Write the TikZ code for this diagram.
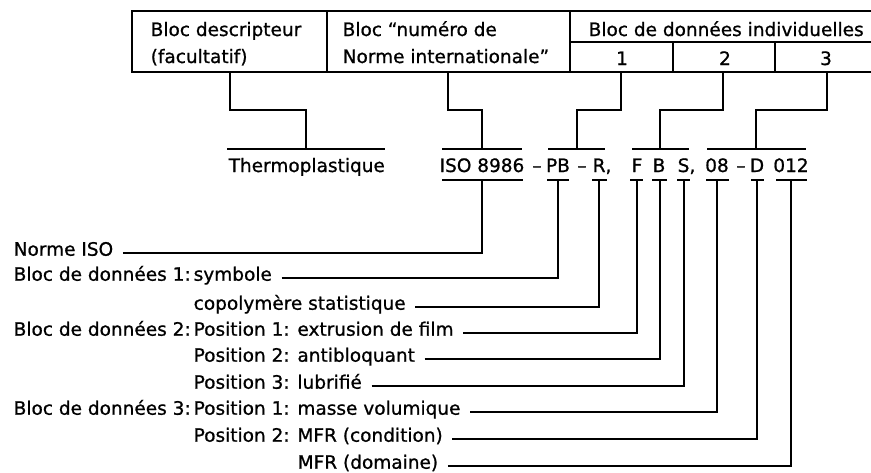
\documentclass[tikz,border=0pt]{standalone}
\usepackage{fontspec}
\setmainfont{DejaVu Sans}[FakeBold=0.9]
\begin{document}
\begin{tikzpicture}[x=1pt,y=-1pt,line width=1.4pt,
  txt/.style={font=\fontsize{18.5}{22}\selectfont,inner sep=0pt},
  lbl/.style={txt,anchor=mid west},
  tok/.style={txt,anchor=base},
  hdr/.style={txt,anchor=base west},
  bar/.style={line width=1.6pt},
  conn/.style={line width=1.4pt}]
\useasboundingbox (0,0) rectangle (871,472);
% header boxes
\draw (873,11) -- (132,11) -- (132,72) -- (873,72);
\draw (327,11) -- (327,72);
\draw (570,11) -- (570,72);
\draw (570,42) -- (873,42);
\draw (673,42) -- (673,72);
\draw (775,42) -- (775,72);
\node[hdr] (hdesc1) at (150,36) {Bloc descripteur};
\node[hdr] (hdesc2) at (150,63) {(facultatif)};
\node[hdr] (hnorm1) at (342,36) {Bloc “numéro de};
\node[hdr] (hnorm2) at (342,63) {Norme internationale”};
\node[hdr] (hind) at (588,36) {Bloc de données individuelles};
\node[tok] (h1) at (622,65) {1};
\node[tok] (h2) at (725,65) {2};
\node[tok] (h3) at (826,65) {3};
% box bottom coordinates
\coordinate (cDesc) at (230,72);
\coordinate (cNorm) at (448,72);
\coordinate (c1) at (621,72);
\coordinate (c2) at (723,72);
\coordinate (c3) at (827,72);
% top bars
\coordinate (tTherm) at (306,149);
\coordinate (tISO) at (482,149);
\coordinate (tPBR) at (577,149);
\coordinate (tFBS) at (660,149);
\coordinate (tDat3) at (756,149);
\draw[bar] (227,149) -- (385,149);
\draw[bar] (442,149) -- (522,149);
\draw[bar] (548,149) -- (605,149);
\draw[bar] (632,149) -- (689,149);
\draw[bar] (707,149) -- (806,149);
\draw[conn] (cDesc) -- (cDesc |- 0,110) -| (tTherm);
\draw[conn] (cNorm) -- (cNorm |- 0,110) -| (tISO);
\draw[conn] (c1) -- (c1 |- 0,110) -| (tPBR);
\draw[conn] (c2) -- (c2 |- 0,110) -| (tFBS);
\draw[conn] (c3) -- (c3 |- 0,110) -| (tDat3);
% code line
\node[hdr] (therm) at (228,172) {Thermoplastique};
\node[tok] (kISO) at (482,172) {ISO 8986};
\node[tok] (kd1) at (537,172) {–};
\node[tok] (kPB) at (558,172) {PB};
\node[tok] (kd2) at (582,172) {–};
\node[hdr] (kR) at (592,172) {R,};
\node[tok] (kF) at (637,172) {F};
\node[tok] (kB) at (659,172) {B};
\node[hdr] (kS) at (677,172) {S,};
\node[tok] (k08) at (717,172) {08};
\node[tok] (kd3) at (741,172) {–};
\node[tok] (kD) at (757,172) {D};
\node[tok] (k012) at (791,172) {012};
% bottom bars
\coordinate (bISO) at (482,180);
\coordinate (bPB) at (558,180);
\coordinate (bR) at (599,180);
\coordinate (bF) at (637,180);
\coordinate (bB) at (660,180);
\coordinate (bS) at (684,180);
\coordinate (b08) at (717,180);
\coordinate (bD) at (757,180);
\coordinate (b012) at (791,180);
\draw[bar] (442,180) -- (523,180);
\draw[bar] (547,180) -- (569,180);
\draw[bar] (592,180) -- (607,180);
\draw[bar] (630,180) -- (643,180);
\draw[bar] (652,180) -- (667,180);
\draw[bar] (677,180) -- (690,180);
\draw[bar] (706,180) -- (729,180);
\draw[bar] (751,180) -- (764,180);
\draw[bar] (776,180) -- (807,180);
% labels
\node[lbl] (lISO) at (13,253) {Norme ISO};
\node[lbl] (lB1) at (13,278) {Bloc de données 1:};
\node[lbl] (lPB) at (193,278) {symbole};
\node[lbl] (lR) at (193,307) {copolymère statistique};
\node[lbl] (lB2) at (13,333) {Bloc de données 2:};
\node[lbl] (lF) at (193,333) {Position 1: extrusion de film};
\node[lbl] (lB) at (193,359) {Position 2: antibloquant};
\node[lbl] (lS) at (193,386) {Position 3: lubrifié};
\node[lbl] (lB3) at (13,412) {Bloc de données 3:};
\node[lbl] (l08) at (193,412) {Position 1: masse volumique};
\node[lbl] (lD) at (193,439) {Position 2: MFR (condition)};
\node[lbl] (l012) at (297,466) {MFR (domaine)};
% connectors to labels
\draw[conn] ([xshift=9pt]lISO.mid east) -| (bISO);
\draw[conn] ([xshift=9pt]lPB.mid east) -| (bPB);
\draw[conn] ([xshift=9pt]lR.mid east) -| (bR);
\draw[conn] ([xshift=9pt]lF.mid east) -| (bF);
\draw[conn] ([xshift=9pt]lB.mid east) -| (bB);
\draw[conn] ([xshift=9pt]lS.mid east) -| (bS);
\draw[conn] ([xshift=9pt]l08.mid east) -| (b08);
\draw[conn] ([xshift=9pt]lD.mid east) -| (bD);
\draw[conn] ([xshift=9pt]l012.mid east) -| (b012);
\end{tikzpicture}
\end{document}
